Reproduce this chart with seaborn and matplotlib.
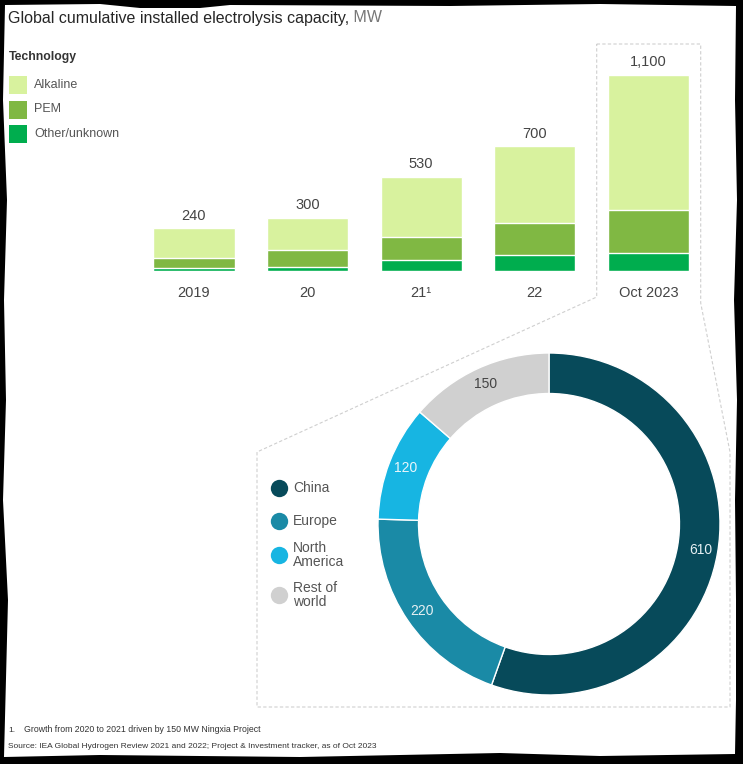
import matplotlib
matplotlib.use("Agg")
import matplotlib.pyplot as plt
import numpy as np
import pandas as pd
import seaborn as sns
from matplotlib.patches import Rectangle, Polygon
from matplotlib.lines import Line2D

# ---------------- data ----------------
years = ["2019", "20", "21\u00b9", "22", "Oct 2023"]
alkaline = [165, 182, 337, 432, 755]
pem = [60, 93, 133, 176, 242]
other = [15, 25, 60, 92, 103]
totals = [240, 300, 530, 700, 1100]
total_labels = ["240", "300", "530", "700", "1,100"]
tech_names = ["Alkaline", "PEM", "Other/unknown"]

regions = ["China", "Europe", "North America", "Rest of world"]
region_legend = ["China", "Europe", "North\nAmerica", "Rest of\nworld"]
region_values = [610, 220, 120, 150]

title_main = "Global cumulative installed electrolysis capacity,"
title_unit = " MW"
footnote = "Growth from 2020 to 2021 driven by 150 MW Ningxia Project"
source = "Source: IEA Global Hydrogen Review 2021 and 2022; Project & Investment tracker, as of Oct 2023"

# ---------------- style ----------------
sns.set_theme(style="white")
plt.rcParams["font.family"] = ["Liberation Sans", "DejaVu Sans"]

C_ALK, C_PEM, C_OTH = "#d8f29e", "#80b843", "#00ad4e"
REG_COLORS = ["#074a5a", "#1a8aa6", "#17b5e2", "#d0d0d0"]
TXT = "#444444"

W, H = 743, 764
fig = plt.figure(figsize=(W / 100, H / 100), dpi=100)
fig.patch.set_facecolor("black")


def fx(x):
    return x / W


def fy(y):
    return 1 - y / H


# wobbly white "paper"
paper = [(5, 5), (100, 4), (140, 8), (200, 8), (230, 5), (450, 6), (600, 4),
         (736, 6), (735, 100), (737, 200), (734, 300), (737, 400), (735, 500),
         (736, 600), (736, 700), (735, 754), (600, 756), (500, 753), (300, 757),
         (100, 755), (4, 757), (8, 600), (3, 500), (6, 400), (4, 300), (7, 200),
         (3, 100)]
fig.add_artist(Polygon([(fx(x), fy(y)) for x, y in paper], closed=True,
                       facecolor="white", edgecolor="none",
                       transform=fig.transFigure, zorder=0))

# ---------------- title ----------------
t1 = fig.text(fx(8), fy(18), title_main, fontsize=11.5, color="#262626",
              va="center", ha="left")
fig.canvas.draw()
bb = t1.get_window_extent(renderer=fig.canvas.get_renderer())
fig.text(bb.x1 / W, fy(18), title_unit, fontsize=11.5, color="#777777",
         va="center", ha="left")

# ---------------- technology legend ----------------
fig.text(fx(9), fy(57), "Technology", fontsize=8.8, fontweight="bold",
         color="#333333", va="center", ha="left")
for i, (name, col) in enumerate(zip(tech_names, [C_ALK, C_PEM, C_OTH])):
    yc = 85 + i * 24.5
    fig.add_artist(Rectangle((fx(9), fy(yc + 9)), 18 / W, 18 / H,
                             facecolor=col, edgecolor="none",
                             transform=fig.transFigure))
    fig.text(fx(34), fy(yc), name, fontsize=9, color="#555555",
             va="center", ha="left")

# ---------------- stacked bars ----------------
ax = fig.add_axes([fx(137.2), fy(271), 568 / W, 196 / H])
df = pd.DataFrame({"year": years,
                   "total": totals,
                   "pem_cum": np.array(pem) + np.array(other),
                   "other": other})
bar_kw = dict(order=years, width=0.714, saturation=1, edgecolor="white",
              linewidth=1.0, ax=ax, errorbar=None)
sns.barplot(data=df, x="year", y="total", color=C_ALK, **bar_kw)
sns.barplot(data=df, x="year", y="pem_cum", color=C_PEM, **bar_kw)
sns.barplot(data=df, x="year", y="other", color=C_OTH, **bar_kw)
ax.set_xlim(-0.5, 4.5)
ax.set_ylim(0, 1100)
ax.set_facecolor("none")
for s in ax.spines.values():
    s.set_visible(False)
ax.set_yticks([])
ax.set_xlabel("")
ax.set_ylabel("")
ax.tick_params(axis="x", length=0, pad=11, labelsize=10.5, labelcolor=TXT)
for i, (v, lab) in enumerate(zip(totals, total_labels)):
    ax.annotate(lab, (i, v), xytext=(0, 9), textcoords="offset points",
                ha="center", va="center", fontsize=10.5, color=TXT,
                annotation_clip=False)

# ---------------- dashed call-out ----------------
call = [(596.7, 44), (700.7, 44), (700.7, 303), (730, 452), (730, 707),
        (257, 707), (257, 452), (596.7, 297), (596.7, 44)]
fig.add_artist(Line2D([fx(x) for x, y in call], [fy(y) for x, y in call],
                      transform=fig.transFigure, color="#cfcfcf", lw=0.8,
                      linestyle=(0, (3, 2)), zorder=1))

# ---------------- donut ----------------
R = 171
cx, cy = 549, 524
dax = fig.add_axes([fx(cx - R), fy(cy + R), 2 * R / W, 2 * R / H])
wedges, _ = dax.pie(region_values, colors=REG_COLORS, startangle=90,
                    counterclock=False, radius=1,
                    wedgeprops=dict(width=0.237, edgecolor="white",
                                    linewidth=1.0))
dax.set_xlim(-1, 1)
dax.set_ylim(-1, 1)
dax.set_aspect("equal")
dax.axis("off")
total = sum(region_values)
ang = 90.0
lab_cols = ["#e6f0f3", "#e6f0f3", "#eaf6fb", "#444444"]
for v, col in zip(region_values, lab_cols):
    span = 360.0 * v / total
    mid = np.deg2rad(ang - span / 2)
    ang -= span
    r = 0.9
    dax.text(r * np.cos(mid), r * np.sin(mid), f"{v}", ha="center",
             va="center", fontsize=10, color=col)

# region legend
for name, col, yc in zip(region_legend, REG_COLORS, [488, 521, 555, 595]):
    fig.add_artist(Line2D([fx(279)], [fy(yc)], marker="o", markersize=12.5,
                          color=col, markeredgewidth=0,
                          transform=fig.transFigure))
    fig.text(fx(293), fy(yc), name, fontsize=10, color="#555555",
             va="center", ha="left", linespacing=0.95)

# ---------------- footnotes ----------------
fig.text(fx(8), fy(730), "1.", fontsize=6, color="#333333", va="center")
fig.text(fx(24), fy(730), footnote, fontsize=6.3, color="#333333", va="center")
fig.text(fx(8), fy(747), source, fontsize=6, color="#333333", va="center")

fig.savefig("out.png", dpi=100, facecolor=fig.get_facecolor())
